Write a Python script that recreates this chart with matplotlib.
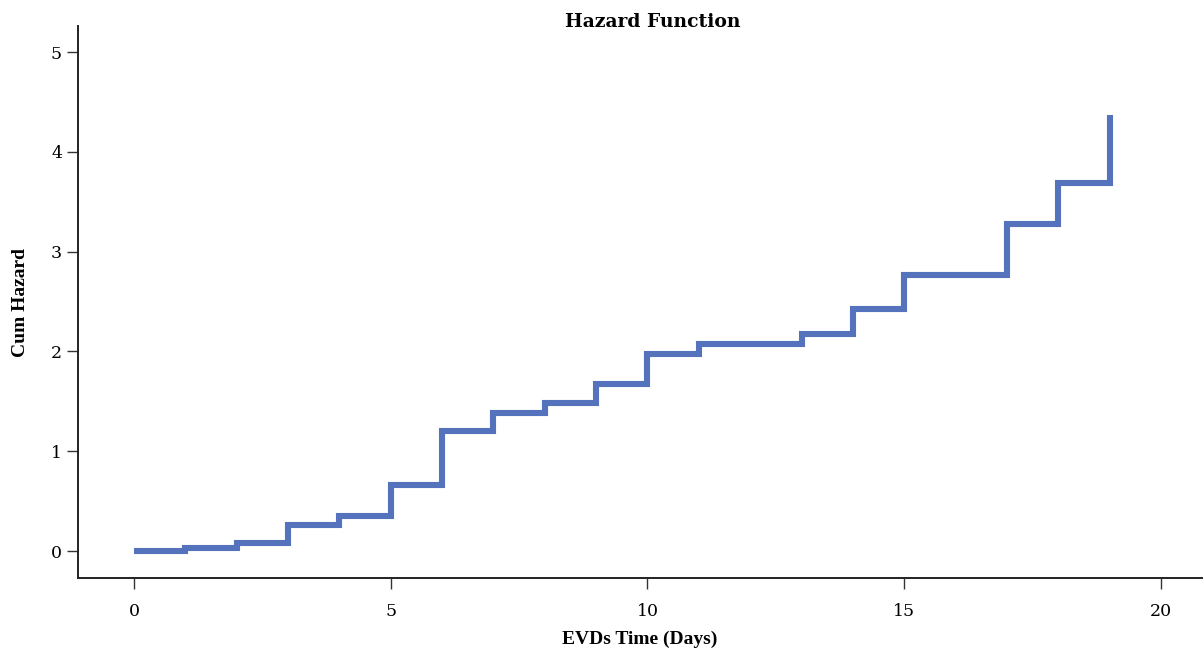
import matplotlib
matplotlib.use("Agg")
import matplotlib.pyplot as plt

# step times (days) and cumulative hazard
days = [0, 1, 2, 3, 4, 5, 6, 7, 8, 9, 10, 11, 13, 14, 15, 17, 18, 19]
cum_hazard = [0, 0.03, 0.08, 0.26, 0.35, 0.66, 1.2, 1.38, 1.48, 1.67,
              1.97, 2.07, 2.17, 2.43, 2.77, 3.28, 3.69, 4.37]

x_ticks = [0, 5, 10, 15, 20]
y_ticks = [0, 1, 2, 3, 4, 5]

plt.rcParams['font.family'] = ['DejaVu Serif']

fig = plt.figure(figsize=(12.04, 6.5), dpi=100)
ax = fig.add_axes([0.0648, 0.1108, 0.9336, 0.849])

ax.step(days, cum_hazard, where='post', color='#5572bd', linewidth=4.4,
        solid_joinstyle='miter', solid_capstyle='butt')

ax.set_xlim(-1.09, 20.8)
ax.set_ylim(-0.27, 5.26)
ax.set_xticks(x_ticks)
ax.set_yticks(y_ticks)
ax.tick_params(axis='both', labelsize=12.5, color='#333333', length=8, width=1)
ax.tick_params(axis='x', pad=10)

for s in ['top', 'right']:
    ax.spines[s].set_visible(False)
for s in ['left', 'bottom']:
    ax.spines[s].set_linewidth(1.4)
    ax.spines[s].set_color('#222222')

fig.text(0.542, 1 - 22 / 650, "Hazard Function", fontsize=13.5,
         fontweight='bold', ha='center', va='center')
ax.set_xlabel("EVDs Time (Days)", fontsize=14, fontweight='bold',
              family='Liberation Serif', labelpad=8)
ax.set_ylabel("Cum Hazard", fontsize=14, fontweight='bold',
              family='Liberation Serif', labelpad=16)

fig.savefig("out.png", dpi=100)
